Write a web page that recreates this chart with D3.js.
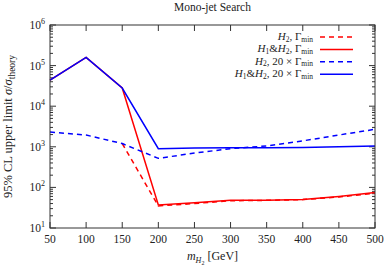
<!DOCTYPE html>
<html>
<head>
<meta charset="utf-8">
<script src="https://cdn.jsdelivr.net/npm/d3@7"></script>
<style>
  body { margin: 0; background: #fff; }
  svg text { font-family: "Liberation Serif", "DejaVu Serif", serif; fill: #222; }
  .frame { fill: none; stroke: #333; stroke-width: 1; }
</style>
</head>
<body>
<div id="chart"></div>
<script>
const masses = [50, 100, 150, 200, 250, 300, 350, 400, 450, 500]
const xTicks = [50, 100, 150, 200, 250, 300, 350, 400, 450, 500]
const yDecades = [1, 2, 3, 4, 5, 6]

// H2, Gamma_min (dashed red) -- starts at 150
const h2Min = [null, null, 1200, 35, 40, 47, 48, 50, 58, 72]
// H1&H2, Gamma_min (solid red)
const h12Min = [44000, 160000, 28000, 37, 42, 48, 48, 50, 60, 75]
// H2, 20 x Gamma_min (dashed blue)
const h2Wide = [2300, 1950, 1200, 520, 700, 900, 1050, 1400, 1950, 2700]
// H1&H2, 20 x Gamma_min (solid blue)
const h12Wide = [44000, 160000, 28000, 900, 940, 950, 950, 960, 1000, 1050]

const series = [
  { name: 'h2Min', values: h2Min, color: '#ff0000', dash: '5,4' },
  { name: 'h12Min', values: h12Min, color: '#ff0000', dash: null },
  { name: 'h2Wide', values: h2Wide, color: '#0000ff', dash: '5,4' },
  { name: 'h12Wide', values: h12Wide, color: '#0000ff', dash: null }
]

const width = 390, height = 267
const margin = { top: 25, right: 15, bottom: 39, left: 50 }

const svg = d3.select('#chart').append('svg')
  .attr('width', width)
  .attr('height', height)

const x = d3.scaleLinear().domain([50, 500]).range([margin.left, width - margin.right])
const y = d3.scaleLog().domain([10, 1e6]).range([height - margin.bottom, margin.top])

// minor log ticks
const minor = []
for (let d = 1; d < 6; d++) for (let m = 2; m <= 9; m++) minor.push(m * Math.pow(10, d))

const axes = svg.append('g')
axes.selectAll('.yminL').data(minor).enter().append('line')
  .attr('x1', margin.left).attr('x2', margin.left + 3)
  .attr('y1', d => y(d)).attr('y2', d => y(d))
  .attr('stroke', '#333')
axes.selectAll('.yminR').data(minor).enter().append('line')
  .attr('x1', width - margin.right).attr('x2', width - margin.right - 3)
  .attr('y1', d => y(d)).attr('y2', d => y(d))
  .attr('stroke', '#333')
axes.selectAll('.ymajL').data(yDecades).enter().append('line')
  .attr('x1', margin.left).attr('x2', margin.left + 6)
  .attr('y1', d => y(Math.pow(10, d))).attr('y2', d => y(Math.pow(10, d)))
  .attr('stroke', '#333')
axes.selectAll('.ymajR').data(yDecades).enter().append('line')
  .attr('x1', width - margin.right).attr('x2', width - margin.right - 6)
  .attr('y1', d => y(Math.pow(10, d))).attr('y2', d => y(Math.pow(10, d)))
  .attr('stroke', '#333')
axes.selectAll('.xB').data(xTicks).enter().append('line')
  .attr('x1', d => x(d)).attr('x2', d => x(d))
  .attr('y1', height - margin.bottom).attr('y2', height - margin.bottom - 6)
  .attr('stroke', '#333')
axes.selectAll('.xT').data(xTicks).enter().append('line')
  .attr('x1', d => x(d)).attr('x2', d => x(d))
  .attr('y1', margin.top).attr('y2', margin.top + 6)
  .attr('stroke', '#333')

// tick labels
const yl = axes.selectAll('.ylab').data(yDecades).enter().append('text')
  .attr('x', margin.left - 5)
  .attr('y', d => y(Math.pow(10, d)) + 4)
  .attr('text-anchor', 'end')
  .style('font-size', '11.5px')
yl.append('tspan').text('10')
yl.append('tspan').attr('dy', -5).style('font-size', '8px').text(d => d)

axes.selectAll('.xlab').data(xTicks).enter().append('text')
  .attr('x', d => x(d))
  .attr('y', height - margin.bottom + 15)
  .attr('text-anchor', 'middle')
  .style('font-size', '11.5px')
  .text(d => d)

// lines
const line = d3.line()
  .defined(d => d[1] != null)
  .x(d => x(d[0]))
  .y(d => y(d[1]))

svg.append('g').selectAll('path').data(series).enter().append('path')
  .attr('d', s => line(masses.map((m, i) => [m, s.values[i]])))
  .attr('fill', 'none')
  .attr('stroke', s => s.color)
  .attr('stroke-width', 1.5)
  .attr('stroke-dasharray', s => s.dash)

svg.append('rect').attr('class', 'frame')
  .attr('x', margin.left).attr('y', margin.top)
  .attr('width', width - margin.left - margin.right)
  .attr('height', height - margin.top - margin.bottom)

// title and axis labels
svg.append('text')
  .attr('x', (margin.left + width - margin.right) / 2)
  .attr('y', 11)
  .attr('text-anchor', 'middle')
  .style('font-size', '11.5px')
  .text('Mono-jet Search')

const xl = svg.append('text')
  .attr('x', (margin.left + width - margin.right) / 2)
  .attr('y', height - 7)
  .attr('text-anchor', 'middle')
  .style('font-size', '12px')
xl.append('tspan').style('font-style', 'italic').text('m')
xl.append('tspan').attr('dy', 3).style('font-size', '8px').style('font-style', 'italic').text('H')
xl.append('tspan').attr('dy', 1.5).style('font-size', '6px').text('2')
xl.append('tspan').attr('dy', -4.5).text(' [GeV]')

const ylab = svg.append('text')
  .attr('transform', `translate(12,${(margin.top + height - margin.bottom) / 2}) rotate(-90)`)
  .attr('text-anchor', 'middle')
  .style('font-size', '12.5px')
ylab.append('tspan').text('95% CL upper limit ')
ylab.append('tspan').style('font-style', 'italic').text('σ')
ylab.append('tspan').text('/')
ylab.append('tspan').style('font-style', 'italic').text('σ')
ylab.append('tspan').attr('dy', 3).style('font-size', '9.5px').text('theory')

// legend
const legendItems = [
  { h1: false, wide: false, color: '#ff0000', dash: '5,4' },
  { h1: true, wide: false, color: '#ff0000', dash: null },
  { h1: false, wide: true, color: '#0000ff', dash: '5,4' },
  { h1: true, wide: true, color: '#0000ff', dash: null }
]
const lg = svg.append('g').selectAll('g').data(legendItems).enter().append('g')
  .attr('transform', (d, i) => `translate(0,${37 + i * 12.4})`)
lg.append('line')
  .attr('x1', 320).attr('x2', 353)
  .attr('stroke', d => d.color)
  .attr('stroke-width', 1.5)
  .attr('stroke-dasharray', d => d.dash)
const lt = lg.append('text')
  .attr('x', 313).attr('y', 3)
  .attr('text-anchor', 'end')
  .style('font-size', '11px')
lt.each(function (d) {
  const t = d3.select(this)
  if (d.h1) {
    t.append('tspan').style('font-style', 'italic').text('H')
    t.append('tspan').attr('dy', 1.5).style('font-size', '7.5px').text('1')
    t.append('tspan').attr('dy', -1.5).text('&')
  }
  t.append('tspan').style('font-style', 'italic').text('H')
  t.append('tspan').attr('dy', 1.5).style('font-size', '7.5px').text('2')
  t.append('tspan').attr('dy', -1.5).text(d.wide ? ', 20 × Γ' : ', Γ')
  t.append('tspan').attr('dy', 1.5).style('font-size', '7.5px').text('min')
})
</script>
</body>
</html>
